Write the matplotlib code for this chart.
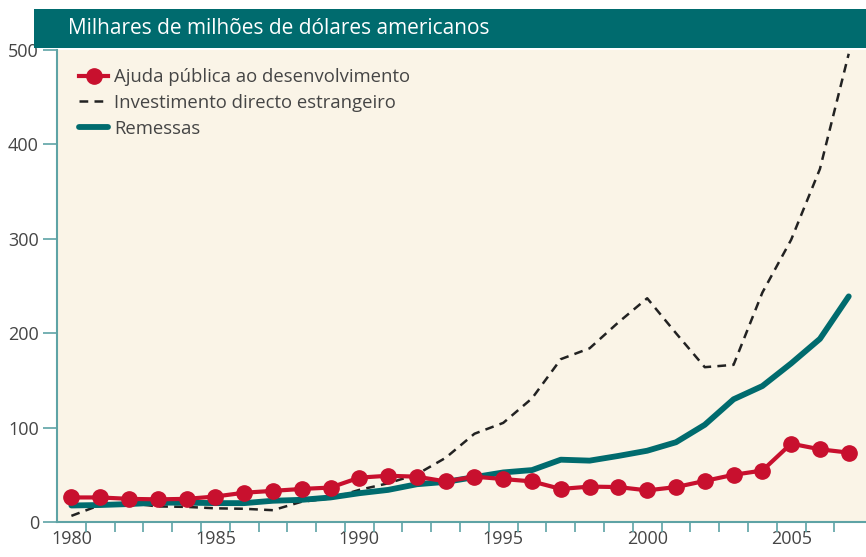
import matplotlib
matplotlib.use("Agg")
import matplotlib.pyplot as plt
from matplotlib.patches import Rectangle
from matplotlib.ticker import FixedLocator

years = list(range(1980, 2008))
ajuda = [26, 26, 24.5, 24, 24.5, 27, 31, 33, 35, 36.5, 47, 49, 48, 43, 48, 45.5, 43,
         35, 37.5, 37, 33.5, 37, 43.5, 50, 54.5, 83, 77, 73.5]
ide = [6.5, 18, 20, 16.5, 16, 14.5, 14, 12.5, 21.5, 25, 34, 41, 50.5, 68, 93.5, 105, 131,
       172.5, 184, 211.5, 237, 200, 164, 166.5, 243, 299, 374, 496]
remessas = [17.5, 18, 19, 20.5, 20.5, 20, 20, 22.5, 23.5, 26, 30.5, 34, 40, 42.5, 47.5,
            52.5, 55, 66, 65, 70, 75.5, 84.5, 103, 130, 144, 168, 194, 239]
yticks = [0, 100, 200, 300, 400, 500]
xlabels = [1980, 1985, 1990, 1995, 2000, 2005]

header_text = "Milhares de milhões de dólares americanos"
labels = ["Ajuda pública ao desenvolvimento", "Investimento directo estrangeiro", "Remessas"]

teal = "#006b6e"
red = "#c8102e"
cream = "#faf4e7"
tickcol = "#5ea3a5"
textcol = "#454545"

plt.rcParams['font.family'] = ['Open Sans', 'DejaVu Sans']

fig = plt.figure(figsize=(8.66, 5.57), dpi=100)
ax = fig.add_axes([57/866, 1-522/557, 1-57/866, (522-50)/557])
ax.set_facecolor(cream)

l1, = ax.plot(years, ajuda, color=red, lw=3, marker='o', ms=11, zorder=3, clip_on=False)
l2, = ax.plot(years, ide, color="#222222", lw=1.8, ls=(0, (3.5, 2.5)), zorder=2)
l3, = ax.plot(years, remessas, color=teal, lw=4.2, zorder=2.5, solid_capstyle='round')

ax.set_xlim(1979.5, 2007.6)
ax.set_ylim(0, 500)

ax.set_yticks(yticks)
ax.set_yticklabels([str(v) for v in yticks])
ax.set_xticks(xlabels)
ax.set_xticklabels([str(v) for v in xlabels])
ax.xaxis.set_minor_locator(FixedLocator([y + 0.5 for y in years[:-1]]))
ax.tick_params(axis='x', which='major', length=0, pad=6, labelsize=13, labelcolor=textcol)
ax.tick_params(axis='x', which='minor', length=7, width=1.2, color=tickcol, direction='out')
ax.tick_params(axis='y', length=10, width=1.2, color=tickcol, pad=3, labelsize=13, labelcolor=textcol)
for s in ['top', 'right']:
    ax.spines[s].set_visible(False)
for s in ['left', 'bottom']:
    ax.spines[s].set_color(tickcol)
    ax.spines[s].set_linewidth(1.5)

leg = ax.legend([l1, l2, l3], labels, loc='upper left', bbox_to_anchor=(0.007, 0.997),
                frameon=False, fontsize=13.3, handlelength=1.55, handletextpad=0.35,
                labelspacing=0.42, borderaxespad=0.5, labelcolor=textcol)

# header band
fig.patches.append(Rectangle((34/866, 1-48/557), 1-34/866, 39/557,
                             transform=fig.transFigure, facecolor=teal, edgecolor='none'))
fig.text(68/866, 1-29/557, header_text, color='white', fontsize=15, va='center', ha='left')

fig.savefig("out.png", dpi=100)
